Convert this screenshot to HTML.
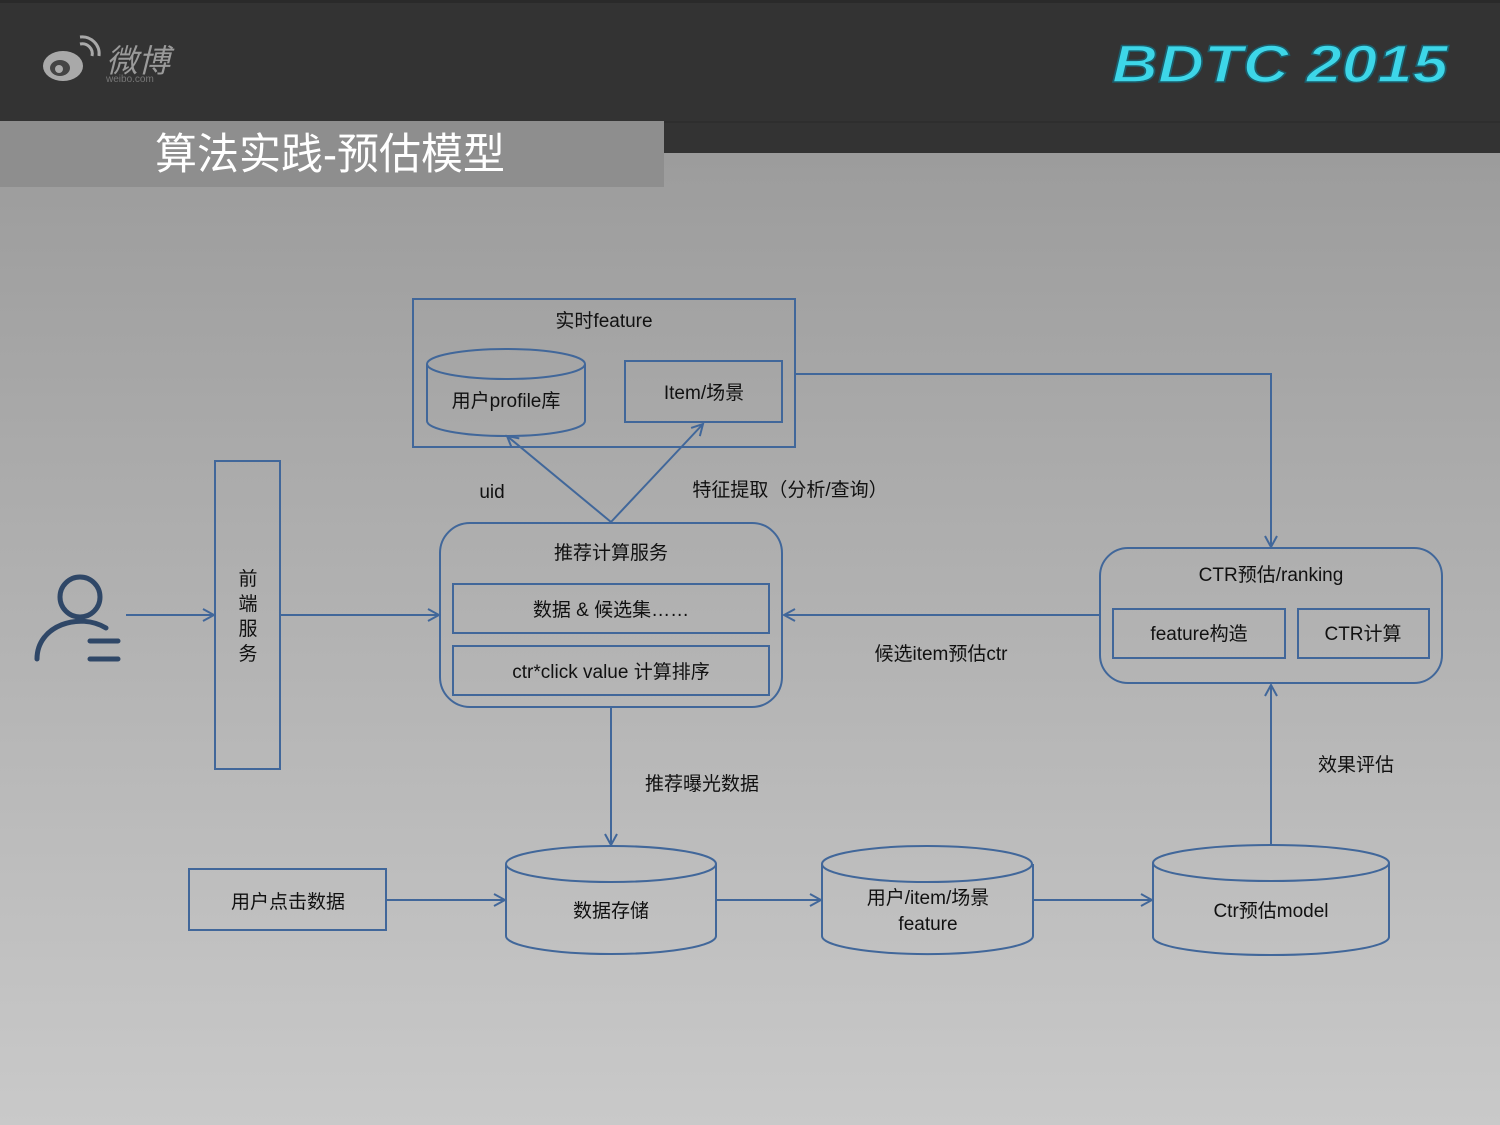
<!DOCTYPE html>
<html><head><meta charset="utf-8"><style>
html,body{margin:0;padding:0;width:1500px;height:1125px;overflow:hidden}
body{background:#c9c9c9;}
svg{display:block}
text{font-family:"Liberation Sans","Noto Sans CJK SC",sans-serif;fill:#111;font-size:19px}
</style></head><body>
<svg width="1500" height="1125" viewBox="0 0 1500 1125" xmlns="http://www.w3.org/2000/svg">
<defs>
<linearGradient id="bg" x1="0" y1="0" x2="0" y2="1">
<stop offset="0" stop-color="#9c9c9c"/><stop offset="0.35" stop-color="#acacac"/><stop offset="1" stop-color="#c9c9c9"/></linearGradient>
<marker id="a" markerWidth="14" markerHeight="14" refX="12" refY="7" orient="auto" markerUnits="userSpaceOnUse">
<path d="M1,1 L12,7 L1,13" fill="none" stroke="#41679a" stroke-width="2"/></marker>
</defs>
<rect x="0" y="153" width="1500" height="972" fill="url(#bg)"/>
<rect x="0" y="0" width="1500" height="153" fill="#333333"/>
<rect x="0" y="0" width="1500" height="3" fill="#2a2a2a"/>
<rect x="0" y="121" width="664" height="66" fill="#8e8e8e"/>
<rect x="664" y="121" width="836" height="2" fill="#2e2e2e"/>
<g fill="none" stroke="#a9a9a9">
<ellipse cx="63" cy="66" rx="20" ry="15" fill="#a9a9a9" stroke="none"/>
<ellipse cx="60" cy="68" rx="10" ry="8" fill="#444" stroke="none"/>
<circle cx="59" cy="69" r="4" fill="#aaa" stroke="none"/>
<path d="M80,44 a10,10 0 0 1 12,12" stroke-width="3"/>
<path d="M80,37 a17,17 0 0 1 19,19" stroke-width="3"/>
</g>
<text x="106" y="72" style="font-size:32px;fill:#9a9a9a;font-style:italic">微博</text>
<text x="106" y="82" style="font-size:10px;fill:#777">weibo.com</text>
<text x="1112" y="82" textLength="336" lengthAdjust="spacingAndGlyphs" style="font-size:53px;font-weight:bold;font-style:italic;fill:#3dd6e8;stroke:#1b5d6b;stroke-width:1.5">BDTC 2015</text>
<text x="155" y="169" textLength="350" lengthAdjust="spacingAndGlyphs" style="font-size:43px;fill:#fff">算法实践-预估模型</text>

<g fill="none" stroke="#41679a" stroke-width="2">
<rect x="413" y="299" width="382" height="148"/>
<path d="M427,364 L427,421 A79,15 0 0 0 585,421 L585,364"/>
<ellipse cx="506" cy="364" rx="79" ry="15"/>
<rect x="625" y="361" width="157" height="61"/>
<rect x="215" y="461" width="65" height="308"/>
<rect x="440" y="523" width="342" height="184" rx="30"/>
<rect x="453" y="584" width="316" height="49"/>
<rect x="453" y="646" width="316" height="49"/>
<rect x="1100" y="548" width="342" height="135" rx="28"/>
<rect x="1113" y="609" width="172" height="49"/>
<rect x="1298" y="609" width="131" height="49"/>
<rect x="189" y="869" width="197" height="61"/>
<path d="M506,864 L506,936 A105,18 0 0 0 716,936 L716,864"/>
<ellipse cx="611" cy="864" rx="105" ry="18"/>
<path d="M822,864 L822,936 A105,18 0 0 0 1033,936 L1033,864"/>
<ellipse cx="927" cy="864" rx="105" ry="18"/>
<path d="M1153,863 L1153,937 A118,18 0 0 0 1389,937 L1389,863"/>
<ellipse cx="1271" cy="863" rx="118" ry="18"/>
<path d="M611,522 L507,436" marker-end="url(#a)"/>
<path d="M611,522 L703,424" marker-end="url(#a)"/>
<path d="M126,615 L214,615" marker-end="url(#a)"/>
<path d="M281,615 L439,615" marker-end="url(#a)"/>
<path d="M1099,615 L784,615" marker-end="url(#a)"/>
<path d="M796,374 L1271,374 L1271,547" marker-end="url(#a)"/>
<path d="M611,708 L611,845" marker-end="url(#a)"/>
<path d="M387,900 L505,900" marker-end="url(#a)"/>
<path d="M717,900 L821,900" marker-end="url(#a)"/>
<path d="M1034,900 L1152,900" marker-end="url(#a)"/>
<path d="M1271,845 L1271,685" marker-end="url(#a)"/>
</g>
<g fill="none" stroke="#2f4767" stroke-width="5" stroke-linecap="round">
<circle cx="80" cy="597" r="20"/>
<path d="M37,659 C37,625 80,612 106,628"/>
<path d="M90,641 L118,641 M90,659 L118,659"/>
</g>
<g text-anchor="middle">
<text x="604" y="327">实时feature</text>
<text x="506" y="407">用户profile库</text>
<text x="704" y="399">Item/场景</text>
<text x="492" y="498">uid</text>
<text x="790" y="496">特征提取（分析/查询）</text>
<text x="248" y="585">前</text>
<text x="248" y="610">端</text>
<text x="248" y="635">服</text>
<text x="248" y="660">务</text>
<text x="611" y="559">推荐计算服务</text>
<text x="611" y="616">数据 &amp; 候选集……</text>
<text x="611" y="678">ctr*click value 计算排序</text>
<text x="1271" y="581">CTR预估/ranking</text>
<text x="1199" y="640">feature构造</text>
<text x="1363" y="640">CTR计算</text>
<text x="941" y="660">候选item预估ctr</text>
<text x="702" y="790">推荐曝光数据</text>
<text x="1356" y="771">效果评估</text>
<text x="288" y="908">用户点击数据</text>
<text x="611" y="917">数据存储</text>
<text x="928" y="904">用户/item/场景</text>
<text x="928" y="930">feature</text>
<text x="1271" y="917">Ctr预估model</text>
</g>
</svg>
</body></html>
